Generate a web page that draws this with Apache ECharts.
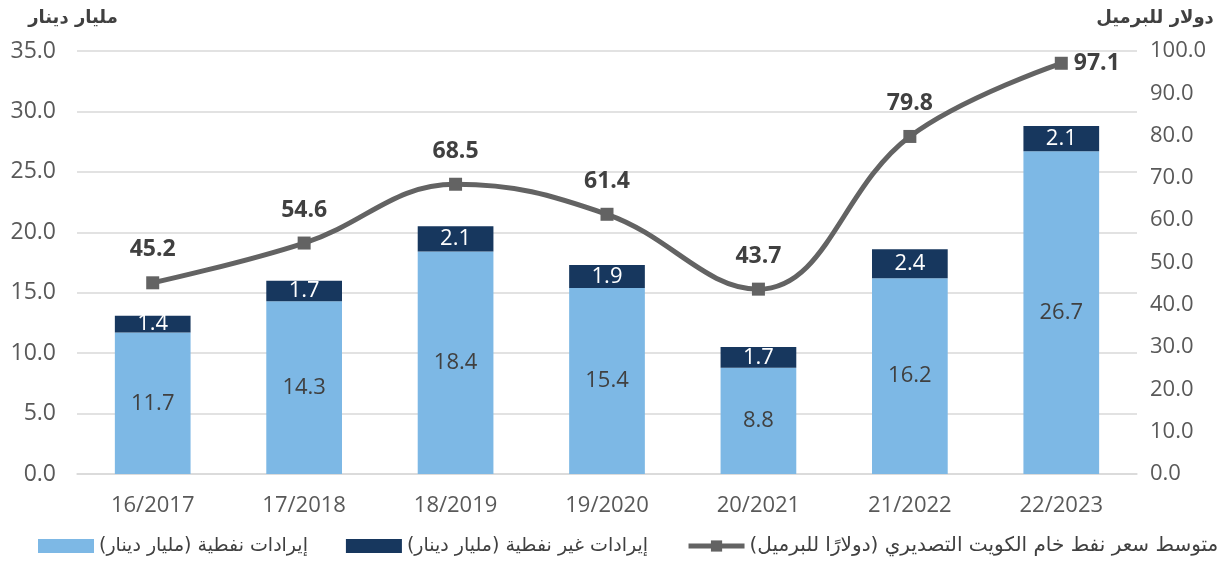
<!DOCTYPE html>
<html><head><meta charset="utf-8">
<script src="https://cdn.jsdelivr.net/npm/echarts@6/dist/echarts.min.js"></script>
<style>html,body{margin:0;padding:0;background:#fff}#c{width:1227px;height:570px}</style>
</head><body><div id="c"></div>
<script>
const categories = ['16/2017','17/2018','18/2019','19/2020','20/2021','21/2022','22/2023'];
const oilRevenue = [11.7, 14.3, 18.4, 15.4, 8.8, 16.2, 26.7];
const nonOilRevenue = [1.4, 1.7, 2.1, 1.9, 1.7, 2.4, 2.1];
const oilPrice = [45.2, 54.6, 68.5, 61.4, 43.7, 79.8, 97.1];
const leftTicks = [0, 5, 35];
const rightTicks = [0, 10, 100];
const RLM = '\u200F';
const nameOil = RLM + 'إيرادات نفطية (مليار دينار)' + RLM;
const nameNonOil = RLM + 'إيرادات غير نفطية (مليار دينار)' + RLM;
const namePrice = RLM + 'متوسط سعر نفط خام الكويت التصديري (دولارًا للبرميل)' + RLM;
const FONT = '"Open Sans", "DejaVu Sans", sans-serif';
const AR = '"DejaVu Sans", sans-serif';

const chart = echarts.init(document.getElementById('c'));
chart.setOption({
  animation: false,
  textStyle: { fontFamily: FONT },
  grid: { left: 77, right: 90, top: 51, bottom: 96 },
  legend: {
    bottom: 9, left: 33, width: 1194,
    itemGap: 38,
    itemWidth: 56, itemHeight: 14,
    textStyle: { fontSize: 19, color: '#404040', fontFamily: AR },
    data: [
      { name: nameOil, icon: 'rect' },
      { name: nameNonOil, icon: 'rect' },
      { name: namePrice, textStyle: { fontSize: 20 }, lineStyle: { width: 5 } }
    ]
  },
  xAxis: {
    type: 'category', data: categories,
    axisTick: { show: false },
    axisLine: { lineStyle: { color: '#d9d9d9', width: 1.5 } },
    axisLabel: { fontSize: 22, color: '#595959', margin: 21 }
  },
  yAxis: [
    {
      type: 'value', min: leftTicks[0], interval: leftTicks[1], max: leftTicks[2],
      name: RLM + 'مليار دينار' + RLM,
      nameLocation: 'end', nameGap: 24,
      nameTextStyle: { fontSize: 18, fontWeight: 'bold', color: '#404040', align: 'center', padding: [0, 8, 0, 0], fontFamily: AR },
      axisLabel: { fontSize: 23, color: '#595959', margin: 21, formatter: v => v.toFixed(1) },
      splitLine: { lineStyle: { color: '#d9d9d9', width: 1.5 } },
      axisLine: { show: false }, axisTick: { show: false }
    },
    {
      type: 'value', min: rightTicks[0], interval: rightTicks[1], max: rightTicks[2],
      name: RLM + 'دولار للبرميل' + RLM,
      nameLocation: 'end', nameGap: 24,
      nameTextStyle: { fontSize: 18, fontWeight: 'bold', color: '#404040', align: 'center', padding: [0, 0, 0, 36], fontFamily: AR },
      axisLabel: { fontSize: 22, color: '#595959', margin: 13, formatter: v => v.toFixed(1) },
      splitLine: { show: false },
      axisLine: { show: false }, axisTick: { show: false }
    }
  ],
  series: [
    {
      name: nameOil, type: 'bar', stack: 'rev', data: oilRevenue,
      barCategoryGap: '50%',
      itemStyle: { color: '#7db8e5' },
      label: { show: true, position: 'inside', fontSize: 22, color: '#404040', formatter: p => p.value.toFixed(1) }
    },
    {
      name: nameNonOil, type: 'bar', stack: 'rev', data: nonOilRevenue,
      itemStyle: { color: '#17375e' },
      label: { show: true, position: 'inside', fontSize: 22, color: '#ffffff', formatter: p => p.value.toFixed(1) }
    },
    {
      name: namePrice, type: 'line', yAxisIndex: 1, smooth: 0.4,
      data: oilPrice.map((v, i) => i === oilPrice.length - 1
        ? { value: v, label: { position: 'right', distance: 6 } }
        : v),
      symbol: 'rect', symbolSize: 13,
      lineStyle: { color: '#636363', width: 5 },
      itemStyle: { color: '#636363' },
      label: { show: true, position: 'top', distance: 15, fontSize: 23, fontWeight: 'bold', color: '#404040', formatter: p => p.value.toFixed(1) },
      z: 5
    }
  ]
});
</script></body></html>
